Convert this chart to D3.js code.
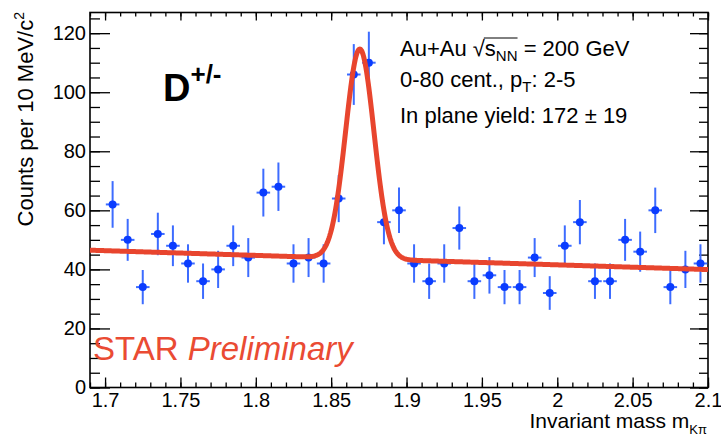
<!DOCTYPE html>
<html>
<head>
<meta charset="utf-8">
<script src="https://cdn.jsdelivr.net/npm/d3@7"></script>
<style>
  body { margin: 0; background: #fff; }
  text { font-family: "Liberation Sans", Arial, sans-serif; }
</style>
</head>
<body>
<div id="wrapper"></div>
<script>
// bin centres (GeV/c^2), 10 MeV bins
const massBins = [1.705, 1.715, 1.725, 1.735, 1.745, 1.755, 1.765, 1.775, 1.785, 1.795,
  1.805, 1.815, 1.825, 1.835, 1.845, 1.855, 1.865, 1.875, 1.885, 1.895,
  1.905, 1.915, 1.925, 1.935, 1.945, 1.955, 1.965, 1.975, 1.985, 1.995,
  2.005, 2.015, 2.025, 2.035, 2.045, 2.055, 2.065, 2.075, 2.085, 2.095]
const counts = [62, 50, 34, 52, 48, 42, 36, 40, 48, 44,
  66, 68, 42, 44, 42, 64, 106, 110, 56, 60,
  42, 36, 42, 54, 36, 38, 34, 34, 44, 32,
  48, 56, 36, 36, 50, 46, 60, 34, 40, 42]
const countErrs = [7.9, 7.1, 5.8, 7.2, 6.9, 6.5, 6.0, 6.3, 6.9, 6.6,
  8.1, 8.2, 6.5, 6.6, 6.5, 8.0, 10.3, 10.5, 7.5, 7.7,
  6.5, 6.0, 6.5, 7.3, 6.0, 6.2, 5.8, 5.8, 6.6, 5.7,
  6.9, 7.5, 6.0, 6.0, 7.1, 6.8, 7.7, 5.8, 6.3, 6.5]
const binHalfWidth = 0.0045

// fit: gaussian + linear background
const fitMean = 1.869
const fitSigma = 0.0094
const fitAmp = 71
const bkgAt169 = 46.5
const bkgSlope = -16

const xTicks = [1.7, 1.75, 1.8, 1.85, 1.9, 1.95, 2.0, 2.05, 2.1]
const xTickLabels = ["1.7", "1.75", "1.8", "1.85", "1.9", "1.95", "2", "2.05", "2.1"]
const yTicks = [0, 20, 40, 60, 80, 100, 120]

const dimensions = {
  width: 721,
  height: 441,
  margin: { top: 12.5, right: 13, bottom: 53.5, left: 90 },
}
dimensions.boundedWidth = dimensions.width - dimensions.margin.left - dimensions.margin.right
dimensions.boundedHeight = dimensions.height - dimensions.margin.top - dimensions.margin.bottom

const wrapper = d3.select("#wrapper")
  .append("svg")
    .attr("width", dimensions.width)
    .attr("height", dimensions.height)

const bounds = wrapper.append("g")
  .attr("transform", `translate(${dimensions.margin.left},${dimensions.margin.top})`)

const xScale = d3.scaleLinear()
  .domain([1.69, 2.1])
  .range([0, dimensions.boundedWidth])
const yScale = d3.scaleLinear()
  .domain([0, 127])
  .range([dimensions.boundedHeight, 0])

const minorX = d3.range(1.69, 2.1001, 0.01).map(d => +d.toFixed(3))
const minorY = d3.range(0, 126, 5)

// axes with inward ticks on all four sides
function drawAxis(gen, tr, values, size, fmt) {
  const g = bounds.append("g")
    .attr("transform", tr)
    .call(gen.tickValues(values).tickSizeInner(size).tickSizeOuter(0).tickPadding(6).tickFormat(fmt))
  g.select(".domain").remove()
  g.selectAll(".tick line").attr("stroke", "#000").attr("stroke-width", 1.3)
  return g
}
const bh = dimensions.boundedHeight, bw = dimensions.boundedWidth
drawAxis(d3.axisBottom(xScale), `translate(0,${bh})`, minorX, -5, () => "")
drawAxis(d3.axisTop(xScale), "translate(0,0)", minorX, -4, () => "")
drawAxis(d3.axisLeft(yScale), "translate(0,0)", minorY, -10, () => "")
drawAxis(d3.axisRight(yScale), `translate(${bw},0)`, minorY, -9, () => "")
drawAxis(d3.axisTop(xScale), "translate(0,0)", xTicks, -8, () => "")
drawAxis(d3.axisRight(yScale), `translate(${bw},0)`, yTicks, -18, () => "")

const xAxis = drawAxis(d3.axisBottom(xScale), `translate(0,${bh})`, xTicks, -10, (d, i) => xTickLabels[i])
xAxis.selectAll(".tick text")
  .attr("y", 5).attr("dy", "0.71em")
  .attr("font-size", 20).attr("fill", "#000")
  .style("font-family", "'Liberation Sans', Arial, sans-serif")

const yAxis = drawAxis(d3.axisLeft(yScale), "translate(0,0)", yTicks, -20, d => d)
yAxis.selectAll(".tick text")
  .attr("x", -4)
  .attr("font-size", 20).attr("fill", "#000")
  .style("font-family", "'Liberation Sans', Arial, sans-serif")

// frame
bounds.append("rect")
  .attr("width", bw).attr("height", bh)
  .attr("fill", "none").attr("stroke", "#000").attr("stroke-width", 1.6)

// data points
const points = bounds.append("g")
massBins.forEach((m, i) => {
  const cx = xScale(m), cy = yScale(counts[i])
  points.append("line")
    .attr("x1", cx).attr("x2", cx)
    .attr("y1", yScale(counts[i] - countErrs[i])).attr("y2", yScale(counts[i] + countErrs[i]))
    .attr("stroke", "#3d6cff").attr("stroke-width", 2)
  points.append("line")
    .attr("x1", xScale(m - binHalfWidth)).attr("x2", xScale(m + binHalfWidth))
    .attr("y1", cy).attr("y2", cy)
    .attr("stroke", "#3d6cff").attr("stroke-width", 2)
  points.append("circle")
    .attr("cx", cx).attr("cy", cy).attr("r", 4)
    .attr("fill", "#0a3cff")
})

// fit curve
const fitFn = m => bkgAt169 + bkgSlope * (m - 1.69)
  + fitAmp * Math.exp(-0.5 * ((m - fitMean) / fitSigma) ** 2)
const curveX = d3.range(1.69, 2.1001, 0.0005)
bounds.append("path")
  .datum(curveX)
  .attr("d", d3.line().x(d => xScale(d)).y(d => yScale(fitFn(d))))
  .attr("fill", "none")
  .attr("stroke", "#e8452e")
  .attr("stroke-width", 5)
  .attr("stroke-linejoin", "round")

// labels
wrapper.append("text")
  .attr("transform", "translate(33,12) rotate(-90)")
  .attr("text-anchor", "end")
  .attr("font-size", 22)
  .text("Counts per 10 MeV/c")
  .append("tspan").attr("font-size", 14).attr("dy", -9).text("2")

const xTitle = wrapper.append("text")
  .attr("x", 707).attr("y", 428)
  .attr("text-anchor", "end")
  .attr("font-size", 21)
xTitle.append("tspan").text("Invariant mass m")
xTitle.append("tspan").attr("font-size", 13).attr("dy", 6).text("K\u03c0")

const dLabel = wrapper.append("text")
  .attr("x", 163).attr("y", 101)
  .attr("font-size", 38).attr("font-weight", "bold")
dLabel.append("tspan").text("D")
dLabel.append("tspan").attr("font-size", 26).attr("dy", -18).text("+/-")

const l1 = wrapper.append("text")
  .attr("x", 400).attr("y", 56).attr("font-size", 22)
l1.append("tspan").text("Au+Au \u221a")
l1.append("tspan").text("s")
l1.append("tspan").attr("font-size", 15).attr("dy", 5).text("NN")
l1.append("tspan").attr("dy", -5).text(" = 200 GeV")
// overline of the square root
const rootBox = l1.node().getExtentOfChar(6)
const nnBox = l1.node().getExtentOfChar(9)
wrapper.append("line")
  .attr("x1", rootBox.x + rootBox.width - 1).attr("x2", nnBox.x + nnBox.width)
  .attr("y1", rootBox.y + 2).attr("y2", rootBox.y + 2)
  .attr("stroke", "#000").attr("stroke-width", 1)

const l2 = wrapper.append("text")
  .attr("x", 400).attr("y", 87).attr("font-size", 22)
l2.append("tspan").text("0-80 cent., p")
l2.append("tspan").attr("font-size", 15).attr("dy", 5).text("T")
l2.append("tspan").attr("dy", -5).text(": 2-5")

wrapper.append("text")
  .attr("x", 400).attr("y", 123).attr("font-size", 22)
  .text("In plane yield: 172 \u00b1 19")

const star = wrapper.append("text")
  .attr("x", 93).attr("y", 360)
  .attr("font-size", 33).attr("fill", "#ea4b33")
star.append("tspan").text("STAR ")
star.append("tspan").attr("font-style", "italic").text("Preliminary")
</script>
</body>
</html>
